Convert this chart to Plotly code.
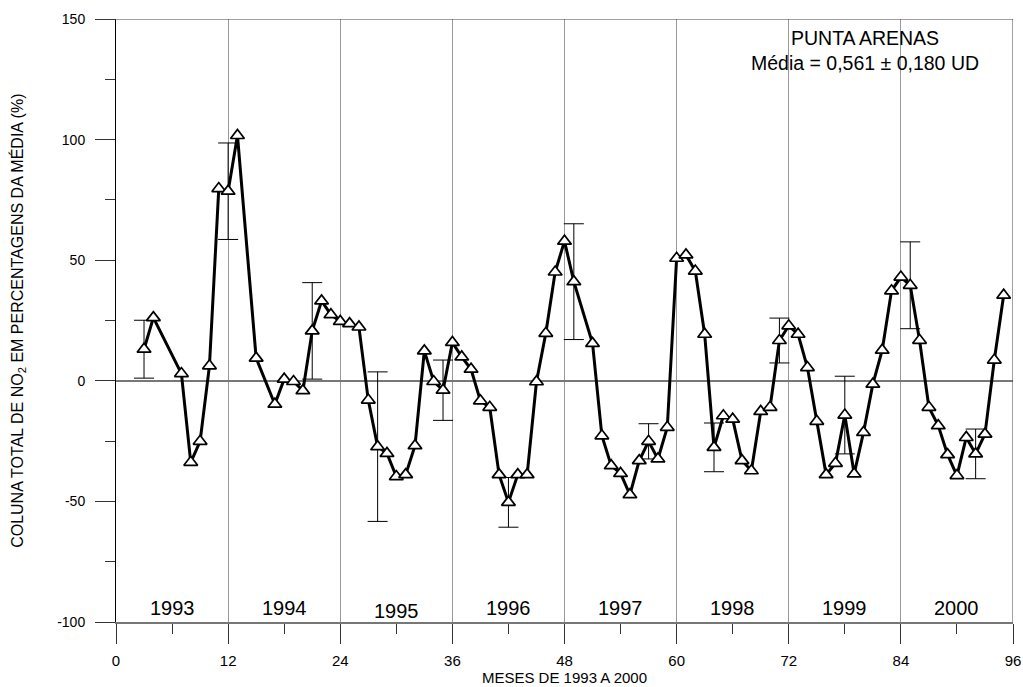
import plotly.graph_objects as go

# Monthly NO2 column anomaly, Punta Arenas (% of mean), months counted from Jan 1993
months = [3, 4, 7, 8, 9, 10, 11, 12, 13, 15, 17, 18, 19, 20, 21, 22, 23, 24,
          25, 26, 27, 28, 29, 30, 31, 32, 33, 34, 35, 36, 37, 38, 39, 40, 41, 42,
          43, 44, 45, 46, 47, 48, 49, 51, 52, 53, 54, 55, 56, 57, 58, 59, 60, 61,
          62, 63, 64, 65, 66, 67, 68, 69, 70, 71, 72, 73, 74, 75, 76, 77, 78, 79,
          80, 81, 82, 83, 84, 85, 86, 87, 88, 89, 90, 91, 92, 93, 94, 95]
anomaly = [13.1, 26.2, 3.0, -33.8, -25.1, 6.2, 79.7, 78.6, 101.7, 9.4, -9.7, 0.7,
           -0.3, -4.1, 20.7, 33.1, 27.4, 24.6, 23.7, 22.3, -8.0, -27.3, -30.1, -39.7,
           -38.9, -26.9, 12.4, -0.3, -3.9, 15.9, 9.9, 4.8, -8.3, -11.0, -38.9, -50.4,
           -38.9, -38.9, -0.4, 19.7, 45.1, 57.9, 41.1, 15.5, -22.8, -35.2, -38.4, -47.2,
           -33.1, -25.1, -32.4, -19.3, 50.8, 52.2, 45.5, 19.3, -27.6, -14.5, -15.9, -33.1,
           -37.3, -12.7, -11.0, 16.7, 22.8, 19.3, 5.5, -16.8, -38.9, -34.2, -14.2, -38.6,
           -21.4, -1.4, 12.7, 37.3, 43.0, 39.6, 16.8, -11.0, -18.6, -30.6, -39.3, -23.5,
           -30.3, -22.1, 8.6, 35.5]

# Months carrying an uncertainty bar and its half-length (%)
err_months = [3, 12, 21, 28, 35, 42, 49, 57, 64, 71, 78, 85, 92]
err_size = [12.0, 20.0, 20.0, 31.0, 12.5, 10.3, 24.0, 7.3, 10.1, 9.3, 16.1, 18.0, 10.3]

years = ["1993", "1994", "1995", "1996", "1997", "1998", "1999", "2000"]
year_mid = [6, 18, 30, 42, 54, 66, 78, 90]
year_y = [-94, -94, -95.5, -94, -94, -94, -94, -94]

x_ticks = [0, 12, 24, 36, 48, 60, 72, 84, 96]
y_ticks = [-100, -50, 0, 50, 100, 150]
y_tick_text = ["-100", "-50", "0", "50", "100", "150"]

err_vals = [anomaly[months.index(m)] for m in err_months]

FONT = "Liberation Sans, Arial, sans-serif"
NARROW = "Liberation Sans Narrow, Arial Narrow, Liberation Sans, Arial, sans-serif"

fig = go.Figure()

fig.add_trace(go.Scatter(
    x=err_months, y=err_vals, mode="markers",
    marker=dict(size=1, color="rgba(0,0,0,0)"),
    error_y=dict(type="data", array=err_size, visible=True,
                 color="black", thickness=1, width=10),
    hoverinfo="skip", showlegend=False,
))

fig.add_trace(go.Scatter(
    x=months, y=anomaly, mode="lines+markers",
    line=dict(color="black", width=3),
    marker=dict(symbol="triangle-up", size=12, color="white",
                line=dict(color="black", width=1.7)),
    showlegend=False,
))

# top and right frame lines
fig.add_shape(type="line", xref="paper", yref="y", x0=-0.0215, x1=1, y0=150, y1=150,
              line=dict(color="#444", width=1))
fig.add_shape(type="line", xref="x", yref="paper", x0=96, x1=96, y0=0, y1=1,
              line=dict(color="#444", width=1))

for yr, xm, yy in zip(years, year_mid, year_y):
    fig.add_annotation(x=xm, y=yy, text=yr, showarrow=False,
                       font=dict(family=NARROW, size=20, color="black"))

fig.add_annotation(x=0.835, y=0.99, xref="paper", yref="paper", showarrow=False,
                   text="PUNTA ARENAS<br>Média = 0,561 ± 0,180 UD",
                   font=dict(family=FONT, size=19.5, color="black"),
                   align="center", xanchor="center", yanchor="top")

# vertical axis title
fig.add_annotation(x=-0.110, y=0.5, xref="paper", yref="paper", showarrow=False,
                   text="COLUNA TOTAL DE NO<sub>2</sub> EM PERCENTAGENS DA MÉDIA (%)",
                   textangle=-90, xanchor="center", yanchor="middle",
                   font=dict(family=NARROW, size=16, color="black"))

fig.update_layout(
    width=1023, height=687,
    margin=dict(l=116, r=10, t=19, b=65),
    plot_bgcolor="white", paper_bgcolor="white",
    font=dict(family=FONT, color="black"),
)

fig.update_xaxes(
    range=[0, 96], tickvals=x_ticks, ticks="outside", ticklen=20,
    tickcolor="#333", tickfont=dict(family=NARROW, size=15),
    ticklabelstandoff=4, automargin=False,
    minor=dict(dtick=6, tick0=0, ticks="outside", ticklen=10, tickcolor="#333", showgrid=False),
    showgrid=True, gridcolor="#999", gridwidth=1,
    showline=True, linecolor="#777", linewidth=2,
    zeroline=False,
    title=dict(text="MESES DE 1993 A 2000", font=dict(family=NARROW, size=15), standoff=2),
)

fig.update_yaxes(
    range=[-100, 150], tickvals=y_ticks, ticktext=y_tick_text, ticks="outside", ticklen=20,
    tickcolor="#333", tickfont=dict(family=FONT, size=14),
    ticklabelstandoff=7, automargin=False,
    minor=dict(dtick=25, tick0=0, ticks="outside", ticklen=10, tickcolor="#333", showgrid=False),
    showgrid=False,
    showline=True, linecolor="black", linewidth=1,
    zeroline=True, zerolinecolor="#777", zerolinewidth=2,
)

fig.write_html("out.html")
